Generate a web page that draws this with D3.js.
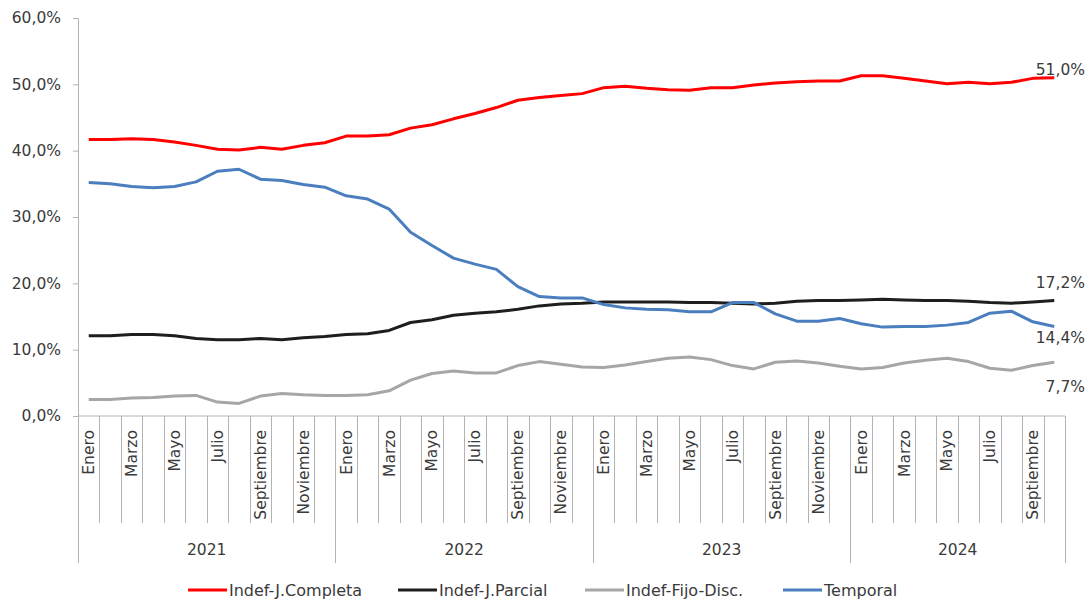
<!DOCTYPE html>
<html>
<head>
<meta charset="utf-8">
<script src="https://cdn.jsdelivr.net/npm/d3@7"></script>
<style>
  body { margin: 0; background: #fff; }
  svg text { font-family: "DejaVu Sans", sans-serif; fill: #3a3a3a; }
</style>
</head>
<body>
<div id="chart"></div>
<script>
// data
const years = ["2021", "2022", "2023", "2024"];
const monthNames = ["Enero", "Febrero", "Marzo", "Abril", "Mayo", "Junio",
  "Julio", "Agosto", "Septiembre", "Octubre", "Noviembre", "Diciembre"];
const monthsPerYear = [12, 12, 12, 10];

const completa = [41.7, 41.7, 41.8, 41.7, 41.3, 40.8, 40.2, 40.1, 40.5, 40.2, 40.8, 41.2,
  42.2, 42.2, 42.4, 43.4, 43.9, 44.8, 45.6, 46.5, 47.6, 48.0, 48.3, 48.6,
  49.5, 49.7, 49.4, 49.2, 49.1, 49.5, 49.5, 49.9, 50.2, 50.4, 50.5, 50.5,
  51.3, 51.3, 50.9, 50.5, 50.1, 50.3, 50.1, 50.3, 50.9, 51.0];
const parcial = [12.1, 12.1, 12.3, 12.3, 12.1, 11.7, 11.5, 11.5, 11.7, 11.5, 11.8, 12.0,
  12.3, 12.4, 12.9, 14.1, 14.5, 15.2, 15.5, 15.7, 16.1, 16.6, 16.9, 17.0,
  17.2, 17.2, 17.2, 17.2, 17.1, 17.1, 17.0, 16.9, 17.0, 17.3, 17.4, 17.4,
  17.5, 17.6, 17.5, 17.4, 17.4, 17.3, 17.1, 17.0, 17.2, 17.4];
const fijoDisc = [2.5, 2.5, 2.7, 2.8, 3.0, 3.1, 2.1, 1.9, 3.0, 3.4, 3.2, 3.1,
  3.1, 3.2, 3.8, 5.4, 6.4, 6.8, 6.5, 6.5, 7.6, 8.2, 7.8, 7.4,
  7.3, 7.7, 8.2, 8.7, 8.9, 8.5, 7.6, 7.1, 8.1, 8.3, 8.0, 7.5,
  7.1, 7.3, 8.0, 8.4, 8.7, 8.2, 7.2, 6.9, 7.6, 8.1];
const temporal = [35.2, 35.0, 34.6, 34.4, 34.6, 35.3, 36.9, 37.2, 35.7, 35.5, 34.9, 34.5,
  33.2, 32.7, 31.2, 27.7, 25.7, 23.8, 22.9, 22.1, 19.5, 18.0, 17.8, 17.8,
  16.8, 16.3, 16.1, 16.0, 15.7, 15.7, 17.1, 17.1, 15.4, 14.3, 14.3, 14.7,
  13.9, 13.4, 13.5, 13.5, 13.7, 14.1, 15.5, 15.8, 14.2, 13.5];

const seriesNames = ["Indef-J.Completa", "Indef-J.Parcial", "Indef-Fijo-Disc.", "Temporal"];
const endLabels = ["51,0%", "17,2%", "7,7%", "14,4%"];
const yTicks = [0, 10, 20, 30, 40, 50, 60];

(function() {
  const width = 1092, height = 601;
  const colors = ["#ff0000", "#1e1e1e", "#a6a6a6", "#4a7ebf"];
  const endOffsets = [-3, -13, 30, 17];   // label baseline relative to last point
  const legendX = [188, 398, 585, 783];

  // month keys like "2021-0"
  const months = [];
  years.forEach((yr, yi) => {
    for (let m = 0; m < monthsPerYear[yi]; m++) months.push({ year: yr, m: m, key: yr + "-" + m });
  });

  const series = [completa, parcial, fijoDisc, temporal].map((vals, i) => ({
    name: seriesNames[i], color: colors[i], label: endLabels[i],
    values: vals.map((v, j) => ({ key: months[j].key, v: v }))
  }));

  const left = 78, right = 1065, top = 18, bottom = 416;

  const x = d3.scaleBand().domain(months.map(d => d.key)).range([left, right]);
  const y = d3.scaleLinear().domain([0, 60]).range([bottom, top]);

  const svg = d3.select("#chart").append("svg")
    .attr("width", width)
    .attr("height", height);

  const axisColor = "#b3b3b3";

  // y axis
  const yAxis = svg.append("g")
    .attr("transform", `translate(${left},0)`)
    .call(d3.axisLeft(y).tickValues(yTicks).tickSize(5).tickPadding(12)
      .tickFormat(d => d3.format(".1f")(d).replace(".", ",") + "%"));
  yAxis.select(".domain").attr("stroke", axisColor);
  yAxis.selectAll(".tick line").attr("stroke", axisColor);
  yAxis.selectAll(".tick text").style("font-size", "15.5px").attr("fill", "#3a3a3a");

  // x axis baseline
  svg.append("line")
    .attr("x1", left).attr("x2", right)
    .attr("y1", bottom).attr("y2", bottom)
    .attr("stroke", axisColor);

  // month separators
  svg.append("g").selectAll("line")
    .data(months.slice(1))
    .join("line")
    .attr("x1", d => Math.round(x(d.key)) + 0.5)
    .attr("x2", d => Math.round(x(d.key)) + 0.5)
    .attr("y1", bottom)
    .attr("y2", d => d.m === 0 ? 563 : 523)
    .attr("stroke", axisColor);

  // outer year edges
  [left, right].forEach(px => {
    svg.append("line")
      .attr("x1", px + 0.5).attr("x2", px + 0.5)
      .attr("y1", bottom).attr("y2", 563)
      .attr("stroke", axisColor);
  });

  // month labels (every other month)
  svg.append("g").selectAll("text")
    .data(months.filter(d => d.m % 2 === 0))
    .join("text")
    .attr("transform", d => `translate(${x(d.key) + x.bandwidth() / 2},430) rotate(-90)`)
    .attr("text-anchor", "end")
    .attr("dy", "0.35em")
    .style("font-size", "15.5px")
    .text(d => monthNames[d.m]);

  // year labels
  svg.append("g").selectAll("text")
    .data(years)
    .join("text")
    .attr("x", yr => {
      const ks = months.filter(d => d.year === yr);
      return (x(ks[0].key) + x(ks[ks.length - 1].key) + x.bandwidth()) / 2;
    })
    .attr("y", 555)
    .attr("text-anchor", "middle")
    .style("font-size", "15.5px")
    .text(yr => yr);

  // lines
  const line = d3.line()
    .x(d => x(d.key) + x.bandwidth() / 2)
    .y(d => y(d.v));

  svg.append("g").selectAll("path")
    .data(series)
    .join("path")
    .attr("d", d => line(d.values))
    .attr("fill", "none")
    .attr("stroke", d => d.color)
    .attr("stroke-width", 3)
    .attr("stroke-linejoin", "round");

  // end labels
  svg.append("g").selectAll("text")
    .data(series)
    .join("text")
    .attr("x", 1085)
    .attr("y", (d, i) => y(d.values[d.values.length - 1].v) + endOffsets[i])
    .attr("text-anchor", "end")
    .style("font-size", "15.5px")
    .text(d => d.label);

  // legend
  const legend = svg.append("g").selectAll("g")
    .data(series)
    .join("g")
    .attr("transform", (d, i) => `translate(${legendX[i]},590)`);

  legend.append("line")
    .attr("x1", 0).attr("x2", 39)
    .attr("stroke", d => d.color)
    .attr("stroke-width", 3);

  legend.append("text")
    .attr("x", 41)
    .attr("dy", "0.35em")
    .style("font-size", "16px")
    .text(d => d.name);
})();
</script>
</body>
</html>
